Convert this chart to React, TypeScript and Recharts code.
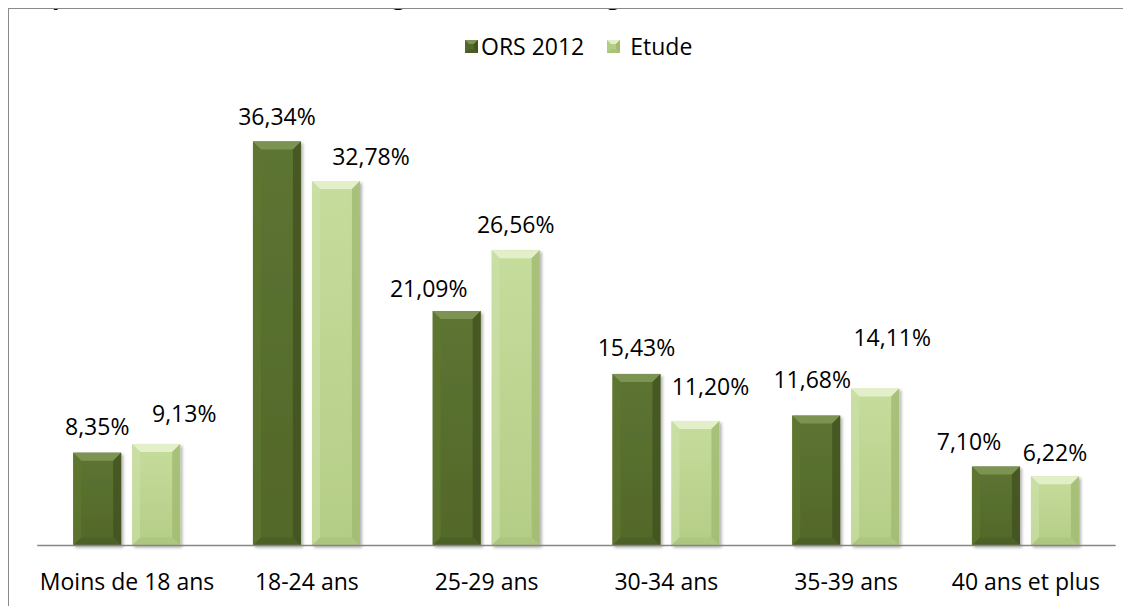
import React from "react";
import { Bar, BarChart, LabelList, XAxis, YAxis } from "recharts";

const CATEGORIES = [
  "Moins de 18 ans",
  "18-24 ans",
  "25-29 ans",
  "30-34 ans",
  "35-39 ans",
  "40 ans et plus",
];
const ORS_2012 = [8.35, 36.34, 21.09, 15.43, 11.68, 7.1];
const ETUDE = [9.13, 32.78, 26.56, 11.2, 14.11, 6.22];

// label nudges (px) from the top centre of each bar, like Excel's manual placement
const ORS_NUDGE = [
  [0, -27],
  [0, -25],
  [-28, -23],
  [0, -27],
  [-4, -37],
  [-27, -26],
];
const ETUDE_NUDGE = [
  [28, -31],
  [35, -25],
  [0, -26],
  [15, -35],
  [17, -52],
  [0, -24],
];

const FONT = "'Open Sans', 'Noto Sans', sans-serif";

const DARK = {
  faceTop: "#5d7433",
  faceBottom: "#526829",
  top: "#7d9352",
  left: "#60772f",
  right: "#41531e",
  bottom: "#495d24",
};
const LIGHT = {
  faceTop: "#c6dc9c",
  faceBottom: "#b4cd86",
  top: "#e3efc9",
  left: "#cbdfa6",
  right: "#a0ba72",
  bottom: "#a9c27c",
};

type Palette = typeof DARK;

const rows = CATEGORIES.map((name, i) => ({ name, ors: ORS_2012[i], etude: ETUDE[i] }));

const fmt = (v: number) => `${v.toFixed(2).replace(".", ",")}%`;

function bevelShape(p: Palette, gradId: string) {
  return (props: any) => {
    const { x, y, width: w, height: h } = props;
    if (!w || !h) return null;
    const b = Math.min(8, w / 4, h / 2);
    return (
      <g filter="url(#barShadow)">
        <rect x={x} y={y} width={w} height={h} fill={`url(#${gradId})`} />
        <polygon points={`${x},${y} ${x + w},${y} ${x + w - b},${y + b} ${x + b},${y + b}`} fill={p.top} />
        <polygon points={`${x},${y} ${x + b},${y + b} ${x + b},${y + h - b} ${x},${y + h}`} fill={p.left} opacity={0.7} />
        <polygon
          points={`${x + w},${y} ${x + w},${y + h} ${x + w - b},${y + h - b} ${x + w - b},${y + b}`}
          fill={p.right}
          opacity={0.8}
        />
        <polygon
          points={`${x},${y + h} ${x + w},${y + h} ${x + w - b},${y + h - b} ${x + b},${y + h - b}`}
          fill={p.bottom}
          opacity={0.6}
        />
      </g>
    );
  };
}

function nudgedLabel(nudge: number[][]) {
  return (props: any) => {
    const { x, y, width, value, index } = props;
    const [dx, dy] = nudge[index] ?? [0, -25];
    return (
      <text
        x={Number(x) + Number(width) / 2 + dx}
        y={Number(y) + dy}
        textAnchor="middle"
        dominantBaseline="central"
        fontFamily={FONT}
        fontSize={23}
        fill="#000"
      >
        {fmt(Number(value))}
      </text>
    );
  };
}

function LegendMark({ p }: { p: Palette }) {
  return (
    <svg width={13} height={13} style={{ display: "block" }}>
      <rect x={0} y={0} width={13} height={13} fill={p.faceBottom} />
      <polygon points="0,0 13,0 9,4 4,4" fill={p.top} />
      <polygon points="13,0 13,13 9,9 9,4" fill={p.right} />
      <polygon points="0,13 13,13 9,9 4,9" fill={p.bottom} />
    </svg>
  );
}

export default function App() {
  return (
    <div style={{ position: "relative", width: 1123, height: 598 }}>
      <style>{"body{overflow:hidden}"}</style>
      <svg
        width={900}
        height={40}
        style={{ position: "absolute", left: 0, top: -40, overflow: "visible" }}
      >
        <text x={14} y={36} fontFamily={FONT} fontWeight="bold" fontSize={24} fill="#000">
          Répartition des mères selon l'âge (en tranche d'âge) (%)
        </text>
      </svg>
      <div style={{ position: "absolute", inset: 0, overflow: "hidden" }}>
        <div
          style={{
            position: "absolute",
            left: 0,
            top: 0,
            width: 1200,
            height: 700,
            border: "1px solid #8a8a8a",
            boxSizing: "border-box",
          }}
        />
        <div
          style={{
            position: "absolute",
            left: 457,
            top: 22,
            display: "flex",
            alignItems: "center",
            fontFamily: FONT,
            fontSize: 23,
            color: "#000",
            whiteSpace: "nowrap",
          }}
        >
          <LegendMark p={DARK} />
          <span style={{ marginLeft: 3 }}>ORS 2012</span>
          <span style={{ width: 23 }} />
          <LegendMark p={LIGHT} />
          <span style={{ marginLeft: 10 }}>Etude</span>
        </div>
        <BarChart
          width={1123}
          height={598}
          data={rows}
          margin={{ top: 92.7, right: 15.3, left: 29.2, bottom: 0 }}
          barSize={48}
          barGap={11}
          style={{ position: "absolute", left: 0, top: 0 }}
        >
          <defs>
            <filter id="barShadow" x="-20%" y="-10%" width="150%" height="130%">
              <feDropShadow dx={2} dy={2} stdDeviation={1.8} floodColor="#000" floodOpacity={0.3} />
            </filter>
            <linearGradient id="gDark" x1="0" y1="0" x2="0" y2="1">
              <stop offset="0%" stopColor={DARK.faceTop} />
              <stop offset="100%" stopColor={DARK.faceBottom} />
            </linearGradient>
            <linearGradient id="gLight" x1="0" y1="0" x2="0" y2="1">
              <stop offset="0%" stopColor={LIGHT.faceTop} />
              <stop offset="100%" stopColor={LIGHT.faceBottom} />
            </linearGradient>
          </defs>
          <XAxis
            dataKey="name"
            height={60.5}
            axisLine={{ stroke: "#868686", strokeWidth: 1.5 }}
            tickLine={false}
            tickSize={0}
            tickMargin={28}
            interval={0}
            tick={{ fontFamily: FONT, fontSize: 23, fill: "#000" }}
          />
          <YAxis hide domain={[0, 40]} />
          <Bar dataKey="ors" name="ORS 2012" shape={bevelShape(DARK, "gDark")} isAnimationActive={false}>
            <LabelList dataKey="ors" content={nudgedLabel(ORS_NUDGE)} />
          </Bar>
          <Bar dataKey="etude" name="Etude" shape={bevelShape(LIGHT, "gLight")} isAnimationActive={false}>
            <LabelList dataKey="etude" content={nudgedLabel(ETUDE_NUDGE)} />
          </Bar>
        </BarChart>
      </div>
    </div>
  );
}
